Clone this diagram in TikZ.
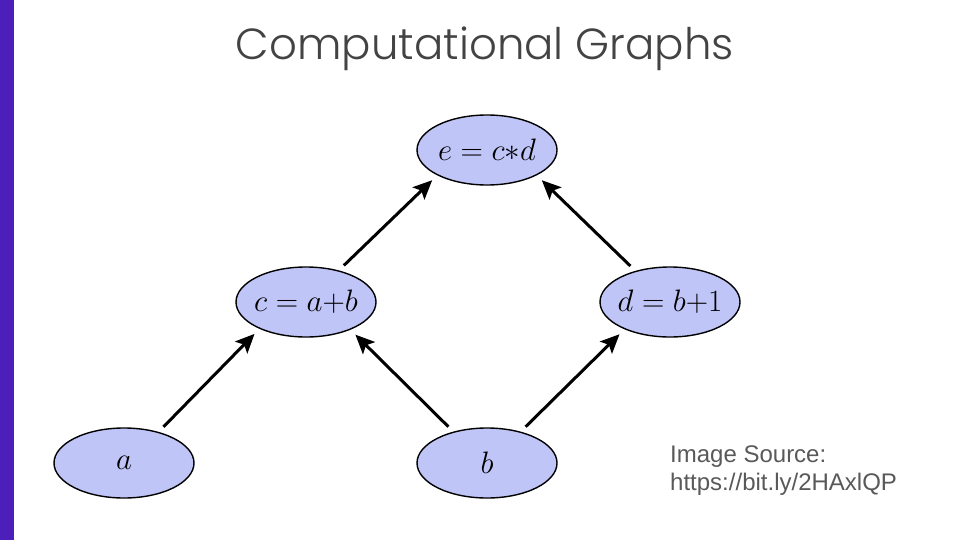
\RequirePackage{fix-cm}
\documentclass[tikz,border=0pt]{standalone}
\usepackage{fontspec}
\setmainfont{Liberation Sans}
\newfontfamily\titlefont{Poppins Light}
\usepackage{tikz}
\usetikzlibrary{shapes.geometric,arrows.meta}
\definecolor{barcolor}{RGB}{76,31,186}
\definecolor{nodecolor}{RGB}{192,197,247}
\definecolor{titlegray}{RGB}{67,67,67}
\definecolor{sourcegray}{RGB}{89,89,89}
\newcommand{\thickness}{3pt}
\newcommand{\gap}{7pt}

\begin{document}
\begin{tikzpicture}[x=1pt,y=-1pt,
  var/.style={draw,ellipse,fill=nodecolor,line width=1.4pt,minimum width=140pt,minimum height=70pt,inner xsep=-5pt,inner ysep=0pt,font=\fontsize{31}{36}\selectfont},
  edge/.style={line width=\thickness,-{Stealth[length=19pt,width=17pt,inset=4pt]},shorten <=\gap,shorten >=\gap}]
\useasboundingbox (0,0) rectangle (960,540);
\fill[barcolor] (0,0) rectangle (14,540);
\node[text=titlegray,font=\titlefont\fontsize{43.5}{52}\selectfont] (title) at (485,49) {Computational Graphs};
%graph
\node[var] (e) at (487,150) {$e=c{*}d$};
\node[var] (c) at (306,302) {$c=a{+}b$};
\node[var] (d) at (670,302) {$d=b{+}1$};
\node[var] (a) at (124,463) {$a$};
\node[var] (b) at (487,463) {$b$};
\draw[edge] (a.42) -- (c.210);
\draw[edge] (b.137) -- (c.328);
\draw[edge] (b.43) -- (d.211);
\draw[edge] (c.44) -- (e.207);
\draw[edge] (d.138) -- (e.333);
%source
\node[text=sourcegray,font=\fontsize{24}{28}\selectfont,align=left,anchor=west,inner sep=0pt] (source) at (670,471) {Image Source:\\https://bit.ly/2HAxlQP};
\end{tikzpicture}
\end{document}
